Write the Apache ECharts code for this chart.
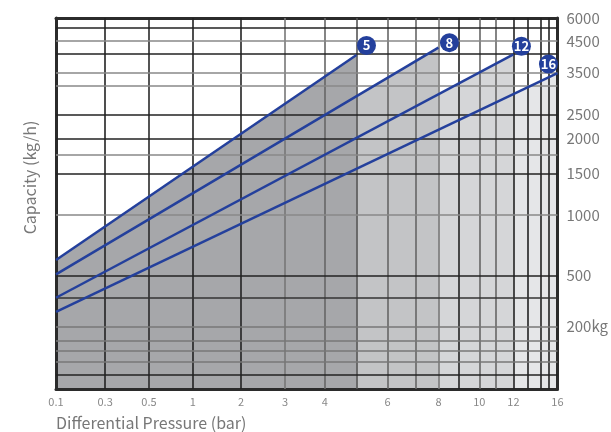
<!DOCTYPE html>
<html><head><meta charset="utf-8">
<script src="https://cdn.jsdelivr.net/npm/echarts@6/dist/echarts.min.js"></script>
<style>html,body{margin:0;padding:0;background:#fff}#c{width:611px;height:432px}</style>
</head><body><div id="c"></div>
<script>
// ---------------- data ----------------
const pressureTicks = [0.1, 0.3, 0.5, 1, 2, 3, 4, 6, 8, 10, 12, 16];
const pressureGrid = [0.3, 0.5, 1, 2, 3, 4, 5, 6, 7, 8, 9, 10, 11, 12, 13, 14, 15];
const capacityTicks = [6000, 4500, 3500, 2500, 2000, 1500, 1000, 500, 200];
const capacityTickText = ['6000', '4500', '3500', '2500', '2000', '1500', '1000', '500', '200kg'];
const capacityGrid = [5350, 4500, 4090, 3500, 3180, 2500, 2000, 1770, 1500, 1000, 500, 370, 200, 155, 123, 86, 45];
const models = ['5', '8', '12', '16'];
const startPressure = [0.1, 0.1, 0.1, 0.1];
const startCapacity = [627, 508, 369, 286];
const endPressure = [5, 8, 12, 16];
const endCapacity = [4060, 4290, 4080, 3490];

// ------------- axis scale (non-uniform chart scale) -------------
const X_SCALE_V = [0.1, 0.3, 0.5, 1, 2, 3, 4, 5, 6, 7, 8, 9, 10, 11, 12, 13, 14, 15, 16];
const X_SCALE_T = [0, 49.3, 93.3, 137.3, 185.7, 230, 270, 301.7, 333, 361, 384, 404.3, 425, 442, 459.3, 473.3, 486.7, 494.3, 503.5];
const Y_SCALE_V = [0, 200, 500, 1000, 1500, 2000, 2500, 3500, 4500, 6000];
const Y_SCALE_T = [0, 62.3, 113.7, 174, 215.7, 250.7, 274.7, 316.3, 348, 371];
function interp(V, T, v) {
  for (let i = 0; i < V.length - 1; i++) {
    if (v <= V[i + 1] || i === V.length - 2) {
      return T[i] + (v - V[i]) / (V[i + 1] - V[i]) * (T[i + 1] - T[i]);
    }
  }
}
const fx = p => interp(X_SCALE_V, X_SCALE_T, p);
const fy = c => interp(Y_SCALE_V, Y_SCALE_T, c);

// ------------- styles -------------
const BLUE = '#24409c';
const areaColors = ['#a6a7aa', '#c3c4c6', '#d5d6d8', '#e5e6e8'];
const vGridColors = ['#222', '#2a2a2a', '#222', '#222', '#777', '#666', '#555', '#666', '#666', '#777', '#222', '#666', '#666', '#222', '#222', '#222', '#222'];
const hGridColors = ['#222', '#888', '#222', '#888', '#888', '#222', '#222', '#888', '#222', '#888', '#222', '#333', '#777', '#777', '#777', '#777', '#222'];
const badgeOffset = [[10, -9.5], [11, -5], [8, -8], [-9, -9]];
const FONT = '"Noto Sans CJK SC", "Noto Sans", sans-serif';

const xLabelMap = {};
pressureTicks.forEach(p => { xLabelMap[fx(p).toFixed(2)] = String(p); });
const yLabelMap = {};
capacityTicks.forEach((c, i) => { yLabelMap[fy(c).toFixed(2)] = capacityTickText[i]; });

const series = [];
// areas, lightest first so darker ones sit on top
for (let i = models.length - 1; i >= 0; i--) {
  series.push({
    type: 'line', z: 1, silent: true, symbol: 'none', animation: false,
    data: [[fx(startPressure[i]), fy(startCapacity[i])], [fx(endPressure[i]), fy(endCapacity[i])]],
    lineStyle: { width: 0 },
    areaStyle: { color: areaColors[i], opacity: 1, origin: 'start' }
  });
}
// grid lines above the fills
const gridData = [];
pressureGrid.forEach((p, i) => gridData.push({ xAxis: fx(p), lineStyle: { color: vGridColors[i], width: 1.6, type: 'solid' } }));
capacityGrid.forEach((c, i) => gridData.push({ yAxis: fy(c), lineStyle: { color: hGridColors[i], width: 1.6, type: 'solid' } }));
series.push({
  type: 'line', z: 3, silent: true, data: [], animation: false,
  markLine: { silent: true, symbol: ['none', 'none'], label: { show: false }, animation: false, data: gridData }
});
// lines
models.forEach((m, i) => {
  series.push({
    type: 'line', z: 5, silent: true, symbol: 'none', animation: false,
    data: [[fx(startPressure[i]), fy(startCapacity[i])], [fx(endPressure[i]), fy(endCapacity[i])]],
    lineStyle: { color: BLUE, width: 2.5 }
  });
});
// badges
series.push({
  type: 'scatter', z: 6, silent: true, animation: false, symbol: 'circle', symbolSize: 19,
  itemStyle: { color: BLUE, opacity: 1 },
  label: { show: true, position: 'inside', formatter: '{b}', color: '#fff', fontSize: 13, fontWeight: 'bold', fontFamily: FONT },
  data: models.map((m, i) => ({ name: m, value: [fx(endPressure[i]), fy(endCapacity[i])], symbolOffset: badgeOffset[i] }))
});

const border = { show: true, onZero: false, lineStyle: { color: '#2b2b2b', width: 3 } };
const option = {
  backgroundColor: '#fff',
  animation: false,
  title: {
    text: 'Differential Pressure (bar)', left: 51, top: 410,
    textStyle: { fontSize: 16, color: '#777', fontWeight: 'normal', fontFamily: FONT }
  },
  grid: { left: 56, top: 18, width: 503.5, height: 371 },
  xAxis: [
    {
      type: 'value', min: 0, max: 503.5, position: 'bottom', z: 4,
      axisLine: border, axisTick: { show: false }, splitLine: { show: false },
      axisLabel: {
        customValues: pressureTicks.map(fx), color: '#888', fontSize: 11, margin: 7, fontFamily: FONT,
        formatter: v => xLabelMap[v.toFixed(2)] || ''
      }
    },
    { type: 'value', min: 0, max: 503.5, position: 'top', z: 4, axisLine: border, axisTick: { show: false }, axisLabel: { show: false }, splitLine: { show: false } }
  ],
  yAxis: [
    {
      type: 'value', min: 0, max: 371, position: 'left', z: 4,
      axisLine: border, axisTick: { show: false }, axisLabel: { show: false }, splitLine: { show: false },
      name: 'Capacity (kg/h)', nameLocation: 'middle', nameGap: 18, nameRotate: 90,
      nameTextStyle: { fontSize: 16, color: '#777', fontFamily: FONT, padding: [0, 0, 0, 52] }
    },
    {
      type: 'value', min: 0, max: 371, position: 'right', z: 4,
      axisLine: border, axisTick: { show: false }, splitLine: { show: false },
      axisLabel: {
        customValues: capacityTicks.map(fy), color: '#777', fontSize: 15, margin: 9, fontFamily: FONT,
        formatter: v => yLabelMap[v.toFixed(2)] || ''
      }
    }
  ],
  series: series
};
const chart = echarts.init(document.getElementById('c'));
chart.setOption(option);
</script>
</body></html>
